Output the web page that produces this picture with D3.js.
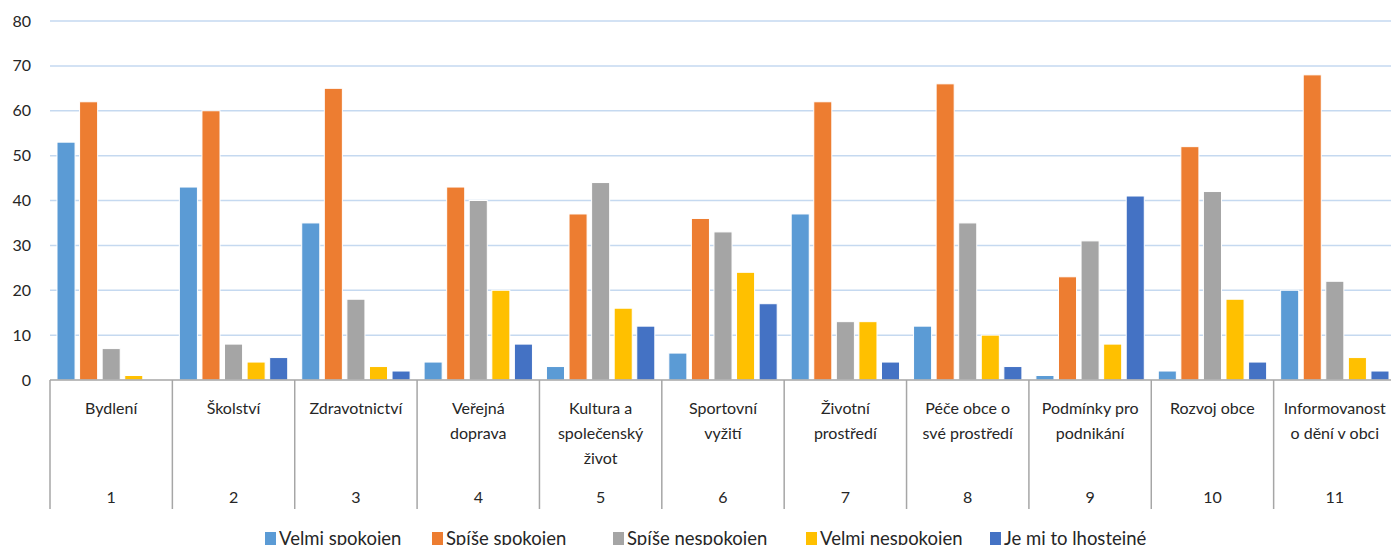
<!DOCTYPE html>
<html>
<head>
<meta charset="utf-8">
<script src="https://cdn.jsdelivr.net/npm/d3@7"></script>
<style>
  body { margin: 0; background: #fff; }
  svg { display: block; font-family: Lato, "Open Sans", sans-serif; }
</style>
</head>
<body>
<svg id="chart" width="1391" height="545"></svg>
<script>
// categories (label lines) and their numbers
var categories = [
  ["Bydlení"],
  ["Školství"],
  ["Zdravotnictví"],
  ["Veřejná", "doprava"],
  ["Kultura a", "společenský", "život"],
  ["Sportovní", "vyžití"],
  ["Životní", "prostředí"],
  ["Péče obce o", "své prostředí"],
  ["Podmínky pro", "podnikání"],
  ["Rozvoj obce"],
  ["Informovanost", "o dění v obci"]
];
var catNumbers = ["1", "2", "3", "4", "5", "6", "7", "8", "9", "10", "11"];
var seriesNames = ["Velmi spokojen", "Spíše spokojen", "Spíše nespokojen", "Velmi nespokojen", "Je mi to lhostejné"];
var seriesColors = ["#5b9bd5", "#ed7d31", "#a5a5a5", "#ffc000", "#4472c4"];

var velmiSpokojen    = [53, 43, 35, 4, 3, 6, 37, 12, 1, 2, 20];
var spiseSpokojen    = [62, 60, 65, 43, 37, 36, 62, 66, 23, 52, 68];
var spiseNespokojen  = [7, 8, 18, 40, 44, 33, 13, 35, 31, 42, 22];
var velmiNespokojen  = [1, 4, 3, 20, 16, 24, 13, 10, 8, 18, 5];
var lhostejne        = [0, 5, 2, 8, 12, 17, 4, 3, 41, 4, 2];
var yTicks = [0, 10, 20, 30, 40, 50, 60, 70, 80];

var values = [velmiSpokojen, spiseSpokojen, spiseNespokojen, velmiNespokojen, lhostejne];

var svg = d3.select("#chart");
var plotLeft = 50, plotRight = 1396, plotTop = 21, plotBottom = 380;

var x0 = d3.scaleBand().domain(d3.range(categories.length)).range([plotLeft, plotRight]).padding(0);
var x1 = d3.scaleBand().domain(d3.range(seriesNames.length))
  .range([7, x0.bandwidth() - 7]).paddingInner(0.2).paddingOuter(0);
var y = d3.scaleLinear().domain([0, 80]).range([plotBottom, plotTop]);

// gridlines
svg.append("g").selectAll("line")
  .data(yTicks.filter(function(d) { return d > 0; }))
  .enter().append("line")
  .attr("x1", plotLeft).attr("x2", plotRight)
  .attr("y1", function(d) { return y(d); })
  .attr("y2", function(d) { return y(d); })
  .attr("stroke", "#c5d9f0").attr("stroke-width", 1.5);

// y labels
svg.append("g").selectAll("text")
  .data(yTicks)
  .enter().append("text")
  .attr("x", 31).attr("y", function(d) { return y(d); })
  .attr("dy", "0.35em").attr("text-anchor", "end")
  .attr("font-size", 16).attr("fill", "#262626")
  .text(function(d) { return d; });

// bars
var groups = svg.append("g").selectAll("g")
  .data(categories)
  .enter().append("g")
  .attr("transform", function(d, i) { return "translate(" + x0(i) + ",0)"; });

groups.selectAll("rect")
  .data(function(d, i) { return values.map(function(s, k) { return { k: k, v: s[i] }; }); })
  .enter().append("rect")
  .filter(function(d) { return d.v > 0; })
  .attr("x", function(d) { return x1(d.k); })
  .attr("width", x1.bandwidth())
  .attr("y", function(d) { return y(d.v); })
  .attr("height", function(d) { return y(0) - y(d.v); })
  .attr("fill", function(d) { return seriesColors[d.k]; })
  .attr("stroke", "#fff").attr("stroke-width", 1);

// category axis
var axisG = svg.append("g");
axisG.append("line")
  .attr("x1", plotLeft).attr("x2", plotRight).attr("y1", plotBottom).attr("y2", plotBottom)
  .attr("stroke", "#a6a6a6").attr("stroke-width", 1.5);
axisG.selectAll("line.sep")
  .data(d3.range(categories.length + 1))
  .enter().append("line").attr("class", "sep")
  .attr("x1", function(i) { return plotLeft + i * x0.step(); })
  .attr("x2", function(i) { return plotLeft + i * x0.step(); })
  .attr("y1", plotBottom).attr("y2", 509)
  .attr("stroke", "#a6a6a6").attr("stroke-width", 1.5);

categories.forEach(function(lines, i) {
  var cx = x0(i) + x0.bandwidth() / 2;
  lines.forEach(function(line, j) {
    axisG.append("text")
      .attr("x", cx).attr("y", 408 + j * 25).attr("dy", "0.35em")
      .attr("text-anchor", "middle").attr("font-size", 16).attr("fill", "#262626")
      .text(line);
  });
  axisG.append("text")
    .attr("x", cx).attr("y", 497).attr("dy", "0.35em")
    .attr("text-anchor", "middle").attr("font-size", 16).attr("fill", "#262626")
    .text(catNumbers[i]);
});

// legend
var legendX = [265, 432, 613, 806, 990];
var legend = svg.append("g").selectAll("g")
  .data(seriesNames)
  .enter().append("g")
  .attr("transform", function(d, i) { return "translate(" + legendX[i] + ",532)"; });
legend.append("rect")
  .attr("width", 11).attr("height", 13)
  .attr("fill", function(d, i) { return seriesColors[i]; });
legend.append("text")
  .attr("x", 14).attr("y", 7).attr("dy", "0.35em")
  .attr("font-size", 18.5).attr("fill", "#262626")
  .text(function(d) { return d; });
</script>
</body>
</html>
